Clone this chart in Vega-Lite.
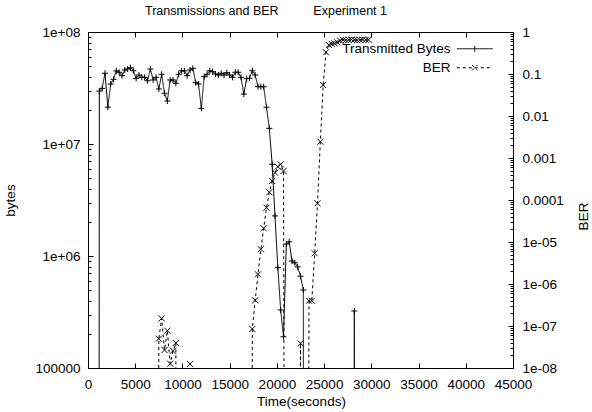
{
  "$schema": "https://vega.github.io/schema/vega-lite/v6.json",
  "width": 425,
  "height": 336,
  "autosize": {"type": "none"},
  "padding": {"left": 88, "top": 32, "right": 79, "bottom": 44},
  "background": "white",
  "title": {
    "text": "Transmissions and BER\u00a0\u00a0\u00a0\u00a0\u00a0\u00a0\u00a0\u00a0\u00a0\u00a0Experiment 1",
    "anchor": "start", "frame": "group", "dx": 57, "dy": 10, "offset": 8, "baseline": "alphabetic",
    "font": "Liberation Sans", "fontSize": 12.5, "fontWeight": "normal", "color": "black"
  },
  "config": {
    "view": {"stroke": "black", "strokeWidth": 1},
    "axis": {
      "grid": false, "domain": false, "ticks": true, "tickColor": "black", "tickWidth": 1,
      "labelColor": "black", "titleColor": "black", "labelFont": "Liberation Sans", "titleFont": "Liberation Sans",
      "labelFontSize": 13.5, "titleFontSize": 13.5, "titleFontWeight": "normal",
      "labelFlush": false, "labelOverlap": false
    }
  },
  "datasets": {
    "bytes": [
      {"t": 900, "bytes": 1e-30},
      {"t": 1200, "bytes": 2.97e7}, {"t": 1500, "bytes": 3.14e7}, {"t": 1800, "bytes": 4.28e7},
      {"t": 2100, "bytes": 2.13e7}, {"t": 2400, "bytes": 3.43e7}, {"t": 2700, "bytes": 3.78e7},
      {"t": 3000, "bytes": 4.49e7}, {"t": 3300, "bytes": 4.37e7}, {"t": 3600, "bytes": 4.07e7},
      {"t": 3900, "bytes": 4.58e7}, {"t": 4200, "bytes": 4.67e7}, {"t": 4500, "bytes": 4.80e7},
      {"t": 4800, "bytes": 4.51e7}, {"t": 5100, "bytes": 3.86e7}, {"t": 5400, "bytes": 4.13e7},
      {"t": 5700, "bytes": 3.94e7}, {"t": 6000, "bytes": 3.94e7}, {"t": 6300, "bytes": 3.67e7},
      {"t": 6600, "bytes": 4.67e7}, {"t": 6900, "bytes": 3.73e7}, {"t": 7200, "bytes": 3.94e7},
      {"t": 7500, "bytes": 3.10e7}, {"t": 7800, "bytes": 4.19e7}, {"t": 8100, "bytes": 2.84e7},
      {"t": 8400, "bytes": 2.42e7}, {"t": 8700, "bytes": 3.73e7}, {"t": 9000, "bytes": 3.73e7},
      {"t": 9300, "bytes": 3.48e7}, {"t": 9600, "bytes": 4.19e7}, {"t": 9900, "bytes": 4.51e7},
      {"t": 10200, "bytes": 4.49e7}, {"t": 10500, "bytes": 4.07e7}, {"t": 10800, "bytes": 4.58e7},
      {"t": 11100, "bytes": 4.74e7}, {"t": 11400, "bytes": 3.53e7}, {"t": 11700, "bytes": 3.43e7},
      {"t": 12000, "bytes": 2.08e7}, {"t": 12300, "bytes": 3.99e7}, {"t": 12600, "bytes": 4.19e7},
      {"t": 12900, "bytes": 4.51e7}, {"t": 13200, "bytes": 4.42e7}, {"t": 13500, "bytes": 4.22e7},
      {"t": 13800, "bytes": 4.13e7}, {"t": 14100, "bytes": 4.28e7}, {"t": 14400, "bytes": 4.13e7},
      {"t": 14700, "bytes": 4.33e7}, {"t": 15000, "bytes": 4.13e7}, {"t": 15300, "bytes": 3.94e7},
      {"t": 15600, "bytes": 4.37e7}, {"t": 15900, "bytes": 4.37e7}, {"t": 16200, "bytes": 3.94e7},
      {"t": 16500, "bytes": 2.79e7}, {"t": 16800, "bytes": 3.83e7}, {"t": 17100, "bytes": 3.86e7},
      {"t": 17400, "bytes": 4.51e7}, {"t": 17700, "bytes": 4.13e7}, {"t": 18000, "bytes": 3.25e7},
      {"t": 18300, "bytes": 3.25e7}, {"t": 18600, "bytes": 3.25e7}, {"t": 18900, "bytes": 2.13e7},
      {"t": 19200, "bytes": 1.38e7}, {"t": 19500, "bytes": 6.59e6}, {"t": 19800, "bytes": 2.28e6},
      {"t": 20100, "bytes": 7.87e5}, {"t": 20400, "bytes": 3.30e5}, {"t": 20700, "bytes": 1.90e5},
      {"t": 21000, "bytes": 1.28e6}, {"t": 21300, "bytes": 1.34e6}, {"t": 21600, "bytes": 9.0e5},
      {"t": 21900, "bytes": 8.7e5}, {"t": 22200, "bytes": 8.0e5}, {"t": 22500, "bytes": 6.6e5},
      {"t": 22800, "bytes": 4.97e5}, {"t": 23100, "bytes": 1e-30}, {"t": 27900, "bytes": 1e-30},
      {"t": 28200, "bytes": 3.23e5}, {"t": 28500, "bytes": 1e-30}
    ],
    "ber": [
      {"t": 7200, "ber": 1e-30}, {"t": 7500, "ber": 4.99e-8}, {"t": 7800, "ber": 1.52e-7},
      {"t": 8100, "ber": 2.68e-8}, {"t": 8400, "ber": 7.73e-8}, {"t": 8700, "ber": 1.27e-8},
      {"t": 9000, "ber": 2.58e-8}, {"t": 9300, "ber": 3.94e-8}, {"t": 9600, "ber": 1e-30},
      {"t": 10500, "ber": null}, {"t": 10800, "ber": 1.25e-8}, {"t": 11100, "ber": null},
      {"t": 17100, "ber": 1e-30}, {"t": 17400, "ber": 8.49e-8}, {"t": 17700, "ber": 4.09e-7},
      {"t": 18000, "ber": 1.70e-6}, {"t": 18300, "ber": 6.70e-6}, {"t": 18600, "ber": 2.12e-5},
      {"t": 18900, "ber": 6.56e-5}, {"t": 19200, "ber": 1.53e-4}, {"t": 19500, "ber": 2.83e-4},
      {"t": 19800, "ber": 4.47e-4}, {"t": 20100, "ber": 6.21e-4}, {"t": 20400, "ber": 7.08e-4},
      {"t": 20700, "ber": 4.90e-4}, {"t": 21000, "ber": 1e-30}, {"t": 22200, "ber": 1e-30},
      {"t": 22500, "ber": 3.87e-8}, {"t": 22800, "ber": 1e-30}, {"t": 23100, "ber": 1e-30},
      {"t": 23400, "ber": 4.0e-7}, {"t": 23700, "ber": 4.0e-7}, {"t": 24000, "ber": 5.38e-6},
      {"t": 24300, "ber": 8.34e-5}, {"t": 24600, "ber": 2.44e-3}, {"t": 24900, "ber": 0.0547},
      {"t": 25200, "ber": 0.329}, {"t": 25500, "ber": 0.49}, {"t": 25800, "ber": 0.52},
      {"t": 26100, "ber": 0.54}, {"t": 26400, "ber": 0.57}, {"t": 26700, "ber": 0.62},
      {"t": 27000, "ber": 0.65}, {"t": 27300, "ber": 0.64}, {"t": 27600, "ber": 0.65},
      {"t": 27900, "ber": 0.66}, {"t": 28200, "ber": 0.65}, {"t": 28500, "ber": 0.64},
      {"t": 28800, "ber": 0.65}, {"t": 29100, "ber": 0.66}, {"t": 29400, "ber": 0.65},
      {"t": 29700, "ber": 0.65}
    ]
  },
  "layer": [
    {
      "data": {"name": "bytes"},
      "layer": [
        {
          "mark": {"type": "line", "color": "black", "strokeWidth": 1, "clip": true},
          "encoding": {
            "x": {
              "field": "t", "type": "quantitative",
              "scale": {"domain": [0, 45000], "nice": false, "zero": false},
              "axis": {
                "orient": "bottom",
                "values": [0, 5000, 10000, 15000, 20000, 25000, 30000, 35000, 40000, 45000],
                "format": "d", "tickSize": -5, "labelPadding": 14,
                "title": "Time(seconds)", "titleX": 213, "titleY": 33, "titleBaseline": "middle", "titleAlign": "center"
              }
            },
            "y": {
              "field": "bytes", "type": "quantitative",
              "scale": {"type": "log", "domain": [100000, 100000000], "nice": false},
              "axis": {
                "orient": "left",
                "values": [100000, 1000000, 10000000, 100000000],
                "labelExpr": "datum.value > 5e7 ? '1e+08' : datum.value > 5e6 ? '1e+07' : datum.value > 5e5 ? '1e+06' : '100000'",
                "tickSize": -5, "labelPadding": 13,
                "title": "bytes", "titleX": -78, "titleY": 168, "titleAngle": 270, "titleBaseline": "middle", "titleAlign": "center"
              }
            },
            "strokeDash": {
              "datum": "Transmitted Bytes", "type": "nominal",
              "scale": {"domain": ["Transmitted Bytes", "BER"], "range": [[1, 0], [3, 3]]},
              "legend": {
                "orient": "none", "legendX": 380, "legendY": 10, "title": null, "padding": 0,
                "symbolType": "M-6,0L6,0", "symbolSize": 36, "symbolStrokeWidth": 1,
                "symbolStrokeColor": "black", "symbolFillColor": "transparent",
                "labelAlign": "right", "labelOffset": -31, "labelFontSize": 13.5,
                "labelFont": "Liberation Sans", "labelColor": "black", "rowPadding": 4, "labelLimit": 0,
                "encode": {
                  "symbols": {
                    "update": {
                      "shape": {"signal": "datum.value === 'BER' ? 'M-6,0L6,0M-0.9,-0.9L0.9,0.9M-0.9,0.9L0.9,-0.9' : 'M-6,0L6,0M0,-1L0,1'"},
                      "stroke": {"value": "black"},
                      "fill": {"value": "transparent"}
                    }
                  }
                }
              }
            }
          }
        },
        {
          "mark": {"type": "point", "shape": "M-1,0L1,0M0,-1L0,1", "size": 36, "filled": false, "color": "black", "strokeWidth": 1, "opacity": 1, "clip": true},
          "encoding": {
            "x": {
              "field": "t", "type": "quantitative",
              "axis": {
                "orient": "top",
                "values": [0, 5000, 10000, 15000, 20000, 25000, 30000, 35000, 40000, 45000],
                "tickSize": -5, "labels": false, "title": null
              }
            },
            "y": {
              "field": "bytes", "type": "quantitative",
              "axis": {
                "orient": "left",
                "values": [200000, 300000, 400000, 500000, 600000, 700000, 800000, 900000, 2000000, 3000000, 4000000, 5000000, 6000000, 7000000, 8000000, 9000000, 20000000, 30000000, 40000000, 50000000, 60000000, 70000000, 80000000, 90000000],
                "tickSize": -3, "labels": false, "title": null
              }
            }
          }
        }
      ],
      "resolve": {"axis": {"x": "independent", "y": "independent"}}
    },
    {
      "data": {"name": "ber"},
      "layer": [
        {
          "mark": {"type": "line", "color": "black", "strokeWidth": 1, "clip": true, "invalid": "break-paths-show-domains"},
          "encoding": {
            "x": {"field": "t", "type": "quantitative", "axis": null},
            "y": {
              "field": "ber", "type": "quantitative",
              "scale": {"type": "log", "domain": [1e-8, 1], "nice": false},
              "axis": {
                "orient": "right",
                "values": [1e-8, 1e-7, 1e-6, 1e-5, 1e-4, 1e-3, 1e-2, 1e-1, 1],
                "labelExpr": "['1e-08','1e-07','1e-06','1e-05','0.0001','0.001','0.01','0.1','1'][round(log(datum.value)/log(10)) + 8]",
                "tickSize": -5, "labelPadding": 14,
                "title": "BER", "titleX": 70, "titleY": 184, "titleAngle": 270, "titleBaseline": "middle", "titleAlign": "center"
              }
            },
            "strokeDash": {"datum": "BER", "type": "nominal"}
          }
        },
        {
          "mark": {"type": "point", "shape": "M-1,-1L1,1M-1,1L1,-1", "size": 36, "filled": false, "color": "black", "strokeWidth": 1, "opacity": 1, "clip": true},
          "encoding": {
            "x": {"field": "t", "type": "quantitative", "axis": null},
            "y": {
              "field": "ber", "type": "quantitative",
              "axis": {
                "orient": "right",
                "values": [2e-8, 3e-8, 4e-8, 5e-8, 6e-8, 7e-8, 8e-8, 9e-8, 2e-7, 3e-7, 4e-7, 5e-7, 6e-7, 7e-7, 8e-7, 9e-7, 2e-6, 3e-6, 4e-6, 5e-6, 6e-6, 7e-6, 8e-6, 9e-6, 2e-5, 3e-5, 4e-5, 5e-5, 6e-5, 7e-5, 8e-5, 9e-5, 2e-4, 3e-4, 4e-4, 5e-4, 6e-4, 7e-4, 8e-4, 9e-4, 2e-3, 3e-3, 4e-3, 5e-3, 6e-3, 7e-3, 8e-3, 9e-3, 0.02, 0.03, 0.04, 0.05, 0.06, 0.07, 0.08, 0.09, 0.2, 0.3, 0.4, 0.5, 0.6, 0.7, 0.8, 0.9],
                "tickSize": -3, "labels": false, "title": null
              }
            }
          }
        }
      ],
      "resolve": {"axis": {"y": "independent"}}
    }
  ],
  "resolve": {"scale": {"y": "independent"}, "axis": {"x": "independent", "y": "independent"}}
}
